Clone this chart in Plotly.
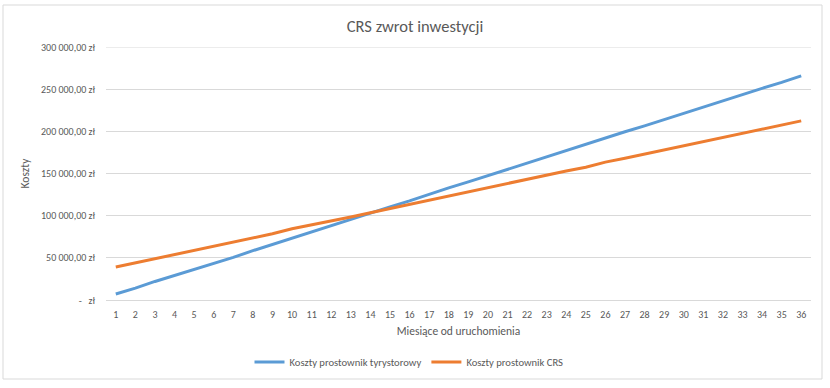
import plotly.graph_objects as go

months = list(range(1, 37))
month_labels = [str(m) for m in months]

koszty_tyrystorowy = [
    7100, 14000, 22000, 29000, 36000, 43000, 50500, 58500, 66000, 73000,
    80500, 88500, 95500, 103000, 110500, 117500, 125500, 133000, 140000, 147500,
    155000, 162500, 170000, 177000, 184500, 192500, 199500, 206500, 214000, 221000,
    229000, 236500, 243500, 251000, 258000, 265800,
]
koszty_crs = [
    39100, 44000, 49000, 53500, 59000, 64000, 69000, 74000, 78500, 84500,
    89000, 94000, 98500, 103500, 108500, 113500, 118500, 123000, 128000, 133000,
    138500, 143000, 148000, 153000, 157500, 163500, 168000, 173000, 177500, 182500,
    187500, 193000, 198000, 202500, 207500, 212400,
]

y_tick_values = [0, 50000, 100000, 150000, 200000, 250000, 300000]
y_tick_labels = ["-\u00a0\u00a0\u00a0zł", "50\u00a0000,00\u00a0zł", "100\u00a0000,00\u00a0zł",
                 "150\u00a0000,00\u00a0zł", "200\u00a0000,00\u00a0zł", "250\u00a0000,00\u00a0zł",
                 "300\u00a0000,00\u00a0zł"]

FONT = "Carlito, Calibri, 'Liberation Sans Narrow', 'Liberation Sans', Arial, sans-serif"
TXT = "#595959"
GRID = "#d9d9d9"

W, H = 830, 388
L, R, T, B = 106, 19, 47, 88
pw, ph = W - L - R, H - T - B

def px_x(x):
    return (x - L) / pw

def px_y(y):
    return (H - B - y) / ph

fig = go.Figure()
fig.add_trace(go.Scatter(x=months, y=koszty_tyrystorowy, mode="lines",
                         name="Koszty prostownik tyrystorowy",
                         line=dict(color="#5B9BD5", width=3)))
fig.add_trace(go.Scatter(x=months, y=koszty_crs, mode="lines",
                         name="Koszty prostownik CRS",
                         line=dict(color="#ED7D31", width=3)))

fig.update_layout(
    width=W, height=H, autosize=False,
    margin=dict(l=L, r=R, t=T, b=B, autoexpand=False),
    paper_bgcolor="white", plot_bgcolor="white",
    font=dict(family=FONT, color=TXT, size=10),
    title=dict(text="CRS zwrot inwestycji", x=0.5, xanchor="center",
               y=1 - 26 / H, yanchor="middle", font=dict(size=16.5, color=TXT)),
    xaxis=dict(range=[0.5, 36.5], tickmode="array", tickvals=months, ticktext=month_labels,
               showgrid=False, zeroline=False, showline=False, ticks="", ticklabelstandoff=7,
               tickfont=dict(size=10, color=TXT),
               title=dict(text="Miesiące od uruchomienia", font=dict(size=11.5, color=TXT), standoff=6)),
    yaxis=dict(range=[0, 300000], tickmode="array", tickvals=y_tick_values, ticktext=y_tick_labels,
               showgrid=True, gridcolor=GRID, gridwidth=1, zeroline=True, zerolinecolor=GRID,
               zerolinewidth=1, showline=False, ticks="", ticklabelstandoff=10,
               tickfont=dict(size=10, color=TXT),
               title=dict(text="Koszty", font=dict(size=11.5, color=TXT), standoff=8)),
    legend=dict(orientation="h", x=px_x(409), xanchor="center", y=px_y(362), yanchor="middle",
                font=dict(size=10.6, color=TXT), bgcolor="rgba(0,0,0,0)"),
    showlegend=True,
)

# top gridline at 300 000 (range edge)
fig.add_shape(type="line", xref="paper", yref="y", x0=0, x1=1, y0=300000, y1=300000,
              line=dict(color=GRID, width=1), layer="below")

# chart-area border
fig.add_shape(type="rect", xref="paper", yref="paper",
              x0=px_x(3), x1=px_x(822), y0=px_y(379), y1=px_y(5),
              line=dict(color="#d9d9d9", width=1), fillcolor="rgba(0,0,0,0)", layer="below")

fig.write_html("out.html", config={"displayModeBar": False},
               post_script="document.body.style.margin='0';document.body.style.overflow='hidden';")
